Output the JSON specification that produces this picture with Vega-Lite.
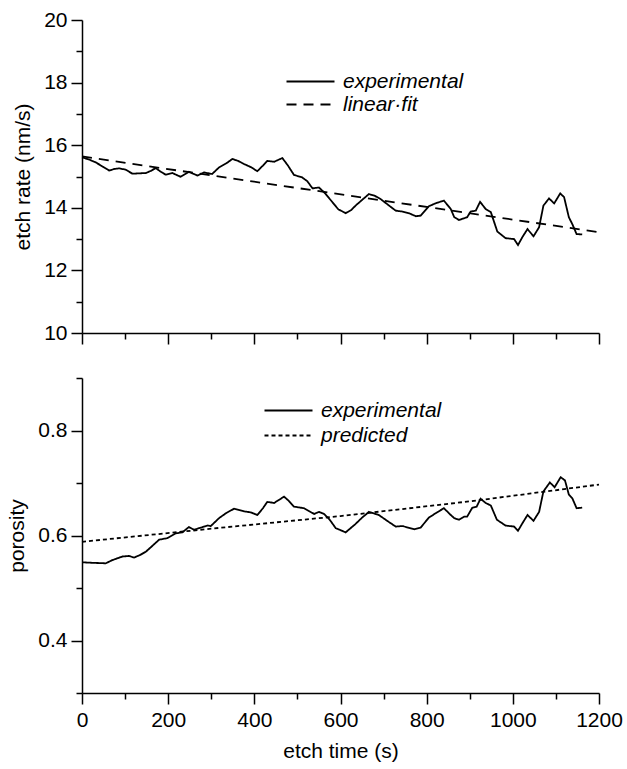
{
  "$schema": "https://vega.github.io/schema/vega-lite/v6.json",
  "padding": {"left": 6, "top": 9, "right": 2, "bottom": 5},
  "background": "white",
  "config": {
    "view": {"stroke": null},
    "font": "Liberation Sans",
    "axis": {
      "domainColor": "black", "domainWidth": 1.5, "tickColor": "black", "tickWidth": 1.5,
      "labelColor": "black", "labelFontSize": 21, "labelFont": "Liberation Sans",
      "titleColor": "black", "titleFontSize": 21, "titleFont": "Liberation Sans", "titleFontWeight": "normal",
      "grid": false, "labelPadding": 4, "titlePadding": 10, "labelFlush": false
    },
    "legend": {
      "orient": "none", "padding": 0, "symbolType": "M-4.8,0H4.8", "symbolSize": 100,
      "symbolStrokeWidth": 1.8, "symbolStrokeColor": "black", "labelFontSize": 21,
      "labelFontStyle": "italic", "labelFont": "Liberation Sans", "labelColor": "black", "labelOffset": 22
    }
  },
  "datasets": {
    "rate": [
      {"t": 0, "v": 15.61, "s": "experimental"}, {"t": 15, "v": 15.55, "s": "experimental"}, {"t": 32, "v": 15.45, "s": "experimental"},
      {"t": 50, "v": 15.3, "s": "experimental"}, {"t": 63, "v": 15.19, "s": "experimental"}, {"t": 75, "v": 15.24, "s": "experimental"},
      {"t": 86, "v": 15.26, "s": "experimental"}, {"t": 101, "v": 15.22, "s": "experimental"}, {"t": 117, "v": 15.09, "s": "experimental"},
      {"t": 133, "v": 15.1, "s": "experimental"}, {"t": 148, "v": 15.11, "s": "experimental"}, {"t": 160, "v": 15.18, "s": "experimental"},
      {"t": 171, "v": 15.27, "s": "experimental"}, {"t": 183, "v": 15.15, "s": "experimental"}, {"t": 194, "v": 15.06, "s": "experimental"},
      {"t": 210, "v": 15.11, "s": "experimental"}, {"t": 229, "v": 14.99, "s": "experimental"}, {"t": 248, "v": 15.15, "s": "experimental"},
      {"t": 268, "v": 15.03, "s": "experimental"}, {"t": 283, "v": 15.13, "s": "experimental"}, {"t": 302, "v": 15.08, "s": "experimental"},
      {"t": 318, "v": 15.29, "s": "experimental"}, {"t": 335, "v": 15.42, "s": "experimental"}, {"t": 349, "v": 15.56, "s": "experimental"},
      {"t": 362, "v": 15.5, "s": "experimental"}, {"t": 376, "v": 15.4, "s": "experimental"}, {"t": 392, "v": 15.3, "s": "experimental"},
      {"t": 407, "v": 15.17, "s": "experimental"}, {"t": 420, "v": 15.35, "s": "experimental"}, {"t": 430, "v": 15.5, "s": "experimental"},
      {"t": 446, "v": 15.47, "s": "experimental"}, {"t": 465, "v": 15.59, "s": "experimental"}, {"t": 478, "v": 15.35, "s": "experimental"},
      {"t": 492, "v": 15.05, "s": "experimental"}, {"t": 511, "v": 14.97, "s": "experimental"}, {"t": 523, "v": 14.85, "s": "experimental"},
      {"t": 535, "v": 14.62, "s": "experimental"}, {"t": 550, "v": 14.65, "s": "experimental"}, {"t": 565, "v": 14.45, "s": "experimental"},
      {"t": 580, "v": 14.2, "s": "experimental"}, {"t": 595, "v": 13.95, "s": "experimental"}, {"t": 612, "v": 13.83, "s": "experimental"},
      {"t": 625, "v": 13.93, "s": "experimental"}, {"t": 635, "v": 14.07, "s": "experimental"}, {"t": 650, "v": 14.25, "s": "experimental"},
      {"t": 666, "v": 14.44, "s": "experimental"}, {"t": 680, "v": 14.38, "s": "experimental"}, {"t": 693, "v": 14.28, "s": "experimental"},
      {"t": 710, "v": 14.1, "s": "experimental"}, {"t": 728, "v": 13.91, "s": "experimental"}, {"t": 744, "v": 13.88, "s": "experimental"},
      {"t": 760, "v": 13.82, "s": "experimental"}, {"t": 775, "v": 13.73, "s": "experimental"}, {"t": 786, "v": 13.75, "s": "experimental"},
      {"t": 805, "v": 14.05, "s": "experimental"}, {"t": 822, "v": 14.15, "s": "experimental"}, {"t": 840, "v": 14.23, "s": "experimental"},
      {"t": 856, "v": 13.96, "s": "experimental"}, {"t": 864, "v": 13.7, "s": "experimental"}, {"t": 875, "v": 13.61, "s": "experimental"},
      {"t": 894, "v": 13.7, "s": "experimental"}, {"t": 902, "v": 13.88, "s": "experimental"}, {"t": 914, "v": 13.91, "s": "experimental"},
      {"t": 924, "v": 14.19, "s": "experimental"}, {"t": 937, "v": 13.96, "s": "experimental"}, {"t": 949, "v": 13.86, "s": "experimental"},
      {"t": 964, "v": 13.24, "s": "experimental"}, {"t": 983, "v": 13.03, "s": "experimental"}, {"t": 1003, "v": 13.0, "s": "experimental"},
      {"t": 1012, "v": 12.81, "s": "experimental"}, {"t": 1022, "v": 13.06, "s": "experimental"}, {"t": 1034, "v": 13.32, "s": "experimental"},
      {"t": 1048, "v": 13.09, "s": "experimental"}, {"t": 1061, "v": 13.38, "s": "experimental"}, {"t": 1071, "v": 14.07, "s": "experimental"},
      {"t": 1084, "v": 14.3, "s": "experimental"}, {"t": 1096, "v": 14.14, "s": "experimental"}, {"t": 1110, "v": 14.46, "s": "experimental"},
      {"t": 1119, "v": 14.34, "s": "experimental"}, {"t": 1130, "v": 13.7, "s": "experimental"}, {"t": 1138, "v": 13.48, "s": "experimental"},
      {"t": 1148, "v": 13.16, "s": "experimental"}, {"t": 1161, "v": 13.15, "s": "experimental"},
      {"t": 0, "v": 15.64, "s": "linear·fit"}, {"t": 1200, "v": 13.22, "s": "linear·fit"}
    ],
    "por": [
      {"t": 0, "v": 0.549, "s": "experimental"}, {"t": 24, "v": 0.548, "s": "experimental"}, {"t": 55, "v": 0.547, "s": "experimental"},
      {"t": 70, "v": 0.553, "s": "experimental"}, {"t": 94, "v": 0.56, "s": "experimental"}, {"t": 109, "v": 0.561, "s": "experimental"},
      {"t": 121, "v": 0.558, "s": "experimental"}, {"t": 135, "v": 0.563, "s": "experimental"}, {"t": 148, "v": 0.569, "s": "experimental"},
      {"t": 163, "v": 0.58, "s": "experimental"}, {"t": 179, "v": 0.592, "s": "experimental"}, {"t": 198, "v": 0.595, "s": "experimental"},
      {"t": 217, "v": 0.604, "s": "experimental"}, {"t": 233, "v": 0.606, "s": "experimental"}, {"t": 248, "v": 0.616, "s": "experimental"},
      {"t": 260, "v": 0.611, "s": "experimental"}, {"t": 276, "v": 0.615, "s": "experimental"}, {"t": 291, "v": 0.619, "s": "experimental"},
      {"t": 299, "v": 0.618, "s": "experimental"}, {"t": 318, "v": 0.633, "s": "experimental"}, {"t": 335, "v": 0.643, "s": "experimental"},
      {"t": 353, "v": 0.651, "s": "experimental"}, {"t": 376, "v": 0.646, "s": "experimental"}, {"t": 392, "v": 0.644, "s": "experimental"},
      {"t": 407, "v": 0.639, "s": "experimental"}, {"t": 420, "v": 0.652, "s": "experimental"}, {"t": 430, "v": 0.664, "s": "experimental"},
      {"t": 446, "v": 0.662, "s": "experimental"}, {"t": 469, "v": 0.674, "s": "experimental"}, {"t": 480, "v": 0.666, "s": "experimental"},
      {"t": 492, "v": 0.655, "s": "experimental"}, {"t": 515, "v": 0.652, "s": "experimental"}, {"t": 539, "v": 0.641, "s": "experimental"},
      {"t": 550, "v": 0.645, "s": "experimental"}, {"t": 562, "v": 0.641, "s": "experimental"}, {"t": 575, "v": 0.63, "s": "experimental"},
      {"t": 589, "v": 0.614, "s": "experimental"}, {"t": 612, "v": 0.606, "s": "experimental"}, {"t": 635, "v": 0.622, "s": "experimental"},
      {"t": 650, "v": 0.634, "s": "experimental"}, {"t": 666, "v": 0.645, "s": "experimental"}, {"t": 689, "v": 0.639, "s": "experimental"},
      {"t": 710, "v": 0.627, "s": "experimental"}, {"t": 728, "v": 0.617, "s": "experimental"}, {"t": 744, "v": 0.618, "s": "experimental"},
      {"t": 771, "v": 0.612, "s": "experimental"}, {"t": 786, "v": 0.615, "s": "experimental"}, {"t": 805, "v": 0.634, "s": "experimental"},
      {"t": 822, "v": 0.643, "s": "experimental"}, {"t": 840, "v": 0.652, "s": "experimental"}, {"t": 856, "v": 0.639, "s": "experimental"},
      {"t": 864, "v": 0.633, "s": "experimental"}, {"t": 875, "v": 0.63, "s": "experimental"}, {"t": 887, "v": 0.636, "s": "experimental"},
      {"t": 894, "v": 0.636, "s": "experimental"}, {"t": 906, "v": 0.653, "s": "experimental"}, {"t": 916, "v": 0.655, "s": "experimental"},
      {"t": 925, "v": 0.67, "s": "experimental"}, {"t": 937, "v": 0.662, "s": "experimental"}, {"t": 949, "v": 0.657, "s": "experimental"},
      {"t": 963, "v": 0.63, "s": "experimental"}, {"t": 983, "v": 0.619, "s": "experimental"}, {"t": 1003, "v": 0.617, "s": "experimental"},
      {"t": 1012, "v": 0.609, "s": "experimental"}, {"t": 1022, "v": 0.623, "s": "experimental"}, {"t": 1034, "v": 0.639, "s": "experimental"},
      {"t": 1048, "v": 0.628, "s": "experimental"}, {"t": 1061, "v": 0.645, "s": "experimental"}, {"t": 1071, "v": 0.684, "s": "experimental"},
      {"t": 1086, "v": 0.701, "s": "experimental"}, {"t": 1097, "v": 0.692, "s": "experimental"}, {"t": 1111, "v": 0.711, "s": "experimental"},
      {"t": 1121, "v": 0.705, "s": "experimental"}, {"t": 1130, "v": 0.678, "s": "experimental"}, {"t": 1138, "v": 0.671, "s": "experimental"},
      {"t": 1148, "v": 0.652, "s": "experimental"}, {"t": 1161, "v": 0.653, "s": "experimental"},
      {"t": 0, "v": 0.588, "s": "predicted"}, {"t": 300, "v": 0.613, "s": "predicted"}, {"t": 600, "v": 0.637, "s": "predicted"},
      {"t": 900, "v": 0.665, "s": "predicted"}, {"t": 1200, "v": 0.697, "s": "predicted"}
    ]
  },
  "spacing": 32,
  "vconcat": [
    {
      "width": 517, "height": 313,
      "data": {"name": "rate"},
      "mark": {"type": "line", "color": "black", "strokeWidth": 1.8},
      "encoding": {
        "x": {"field": "t", "type": "quantitative", "scale": {"domain": [0, 1200], "nice": false},
          "axis": {"title": null, "labels": false, "values": [0,100,200,300,400,500,600,700,800,900,1000,1100,1200],
            "tickSize": {"condition": {"test": "datum.value % 200 === 0", "value": 11}, "value": 6}}},
        "y": {"field": "v", "type": "quantitative", "scale": {"domain": [10, 20], "nice": false, "zero": false},
          "axis": {"title": "etch rate (nm/s)", "values": [10,11,12,13,14,15,16,17,18,19,20],
            "labelExpr": "datum.value % 2 === 0 ? datum.label : ''",
            "tickSize": {"condition": {"test": "datum.value % 2 === 0", "value": 11}, "value": 6}}},
        "strokeDash": {"field": "s", "type": "nominal",
          "scale": {"domain": ["experimental", "linear·fit"], "range": [[1, 0], [10, 7]]},
          "legend": {"title": null, "legendX": 218, "legendY": 51, "rowPadding": 1}}
      }
    },
    {
      "width": 517, "height": 315,
      "data": {"name": "por"},
      "mark": {"type": "line", "color": "black", "strokeWidth": 1.8},
      "encoding": {
        "x": {"field": "t", "type": "quantitative", "scale": {"domain": [0, 1200], "nice": false},
          "axis": {"title": "etch time (s)", "format": "d", "values": [0,100,200,300,400,500,600,700,800,900,1000,1100,1200],
            "labelExpr": "datum.value % 200 === 0 ? datum.label : ''", "titlePadding": 10, "labelPadding": 5,
            "tickSize": {"condition": {"test": "datum.value % 200 === 0", "value": 11}, "value": 6}}},
        "y": {"field": "v", "type": "quantitative", "scale": {"domain": [0.3, 0.9], "nice": false, "zero": false},
          "axis": {"title": "porosity", "values": [0.3,0.4,0.5,0.6,0.7,0.8,0.9],
            "labelExpr": "round(datum.value * 10) % 2 === 0 ? datum.label : ''",
            "tickSize": {"condition": {"test": "round(datum.value * 10) % 2 === 0", "value": 11}, "value": 6}}},
        "strokeDash": {"field": "s", "type": "nominal",
          "scale": {"domain": ["experimental", "predicted"], "range": [[1, 0], [4, 3]]},
          "legend": {"title": null, "legendX": 196, "legendY": 22, "rowPadding": 3}}
      }
    }
  ],
  "resolve": {"scale": {"strokeDash": "independent"}, "legend": {"strokeDash": "independent"}}
}
